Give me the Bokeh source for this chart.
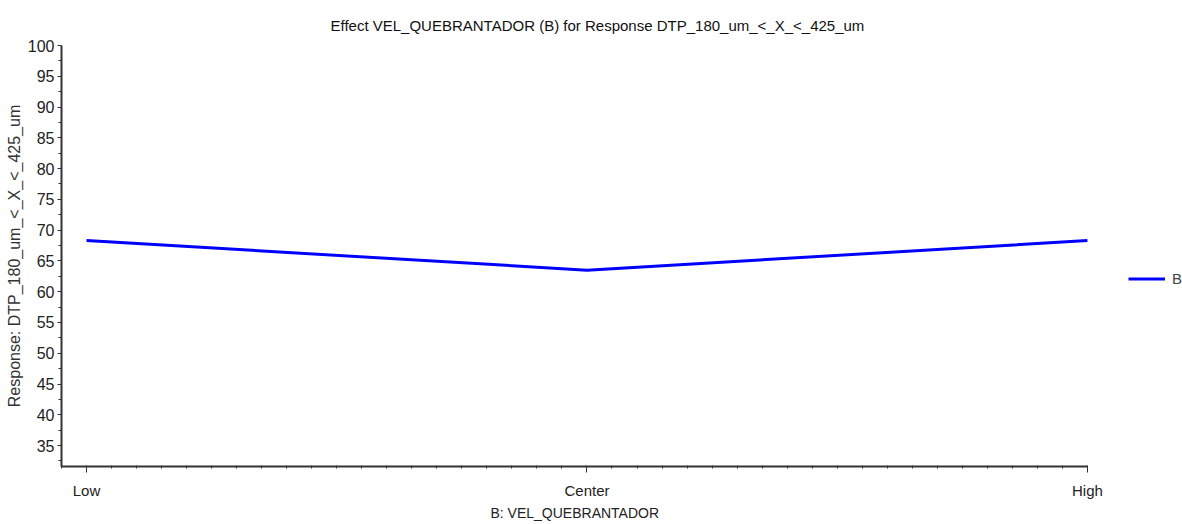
from bokeh.plotting import figure
from bokeh.models import FixedTicker, Range1d, Legend, LegendItem, Title
from bokeh.embed import file_html
from bokeh.resources import INLINE

levels = ["Low", "Center", "High"]
level_pos = [-1, 0, 1]
response_B = [68.3, 63.5, 68.3]
y_ticks = [35, 40, 45, 50, 55, 60, 65, 70, 75, 80, 85, 90, 95, 100]

SANS = "Liberation Sans"

# frame extends to the right edge so the legend (drawn inside the frame) stays visible;
# the x axis line itself is bounded to the data extent
p = figure(width=1182, height=522, output_backend="svg", toolbar_location=None,
           x_range=Range1d(-1.05, 1.19), y_range=Range1d(31.6, 100))
p.min_border_left = 61
p.min_border_right = 0
p.min_border_top = 45
p.min_border_bottom = 55
p.outline_line_color = None
p.xgrid.visible = False
p.ygrid.visible = False
p.background_fill_color = "white"
p.border_fill_color = "white"

r = p.line(level_pos, response_B, line_color="#0000FF", line_width=3)

p.title = Title(text="Effect VEL_QUEBRANTADOR (B) for Response DTP_180_um_<_X_<_425_um",
                align="left", text_font=SANS, text_font_size="15px",
                text_font_style="normal", text_color="#111111", offset=269,
                standoff=24)

# x axis label as a bottom title so it can be centred on the axis extent
p.add_layout(Title(text="B: VEL_QUEBRANTADOR", align="left", offset=429,
                   text_font=SANS, text_font_size="14px", text_font_style="normal",
                   text_color="#222222", standoff=3), "below")

# y axis
ya = p.yaxis[0]
ya.ticker = FixedTicker(ticks=y_ticks, minor_ticks=[t + 2.5 for t in y_ticks] + [32.5])
ya.axis_label = "Response: DTP_180_um_<_X_<_425_um"
ya.axis_label_text_font = SANS
ya.axis_label_text_font_size = "16px"
ya.axis_label_text_font_style = "normal"
ya.axis_label_text_color = "#333333"
ya.axis_label_standoff = 2
ya.major_label_text_font = SANS
ya.major_label_text_font_size = "16px"
ya.major_label_text_color = "#222222"
ya.axis_line_width = 2
ya.axis_line_color = "#333333"
ya.major_tick_out = 4
ya.major_tick_in = 0
ya.minor_tick_out = 3
ya.minor_tick_in = 0
ya.major_tick_line_color = "#333333"
ya.minor_tick_line_color = "#333333"
ya.major_label_standoff = 3

# x axis
xa = p.xaxis[0]
xa.bounds = (-1.05, 1.0)
xa.ticker = FixedTicker(ticks=level_pos,
                        minor_ticks=[round(-1.05 + 0.05 * i, 3) for i in range(42)])
xa.major_label_overrides = {lp: lv for lp, lv in zip(level_pos, levels)}
xa.major_label_text_font = SANS
xa.major_label_text_font_size = "15px"
xa.major_label_text_color = "#222222"
xa.major_label_standoff = 9
xa.axis_line_width = 2
xa.axis_line_color = "#333333"
xa.major_tick_out = 6
xa.major_tick_in = 0
xa.minor_tick_out = 2
xa.minor_tick_in = 1
xa.major_tick_line_color = "#333333"
xa.minor_tick_line_color = "#333333"

legend = Legend(items=[LegendItem(label="B", renderers=[r])],
                location=(1067, 179), orientation="vertical",
                glyph_width=37, glyph_height=17, label_standoff=7,
                label_text_font=SANS, label_text_font_size="15px",
                label_text_color="#444444", border_line_color=None,
                background_fill_alpha=0, padding=0, margin=0, spacing=0)
p.add_layout(legend, "center")

open("out.html", "w").write(file_html(p, INLINE))
